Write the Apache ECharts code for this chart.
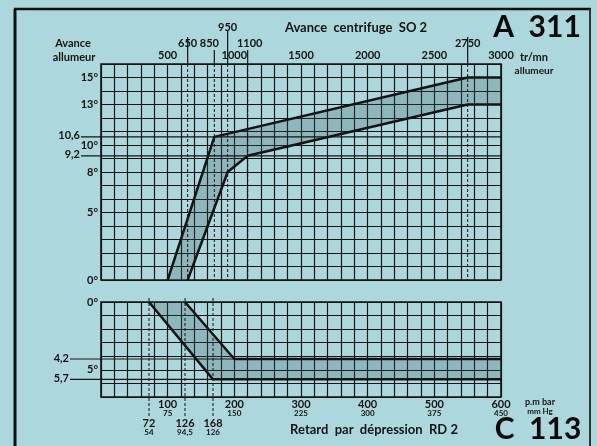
<!DOCTYPE html>
<html><head><meta charset="utf-8">
<script src="https://cdn.jsdelivr.net/npm/echarts@6/dist/echarts.min.js"></script>
<style>html,body{margin:0;padding:0;background:#abd7dd;} #c{width:597px;height:446px;}</style>
</head><body><div id="c"></div>
<script>
// ---- data: centrifugal advance (top chart) ----
const rpmTicks = [500, 1000, 1500, 2000, 2500, 3000];
const advanceTicks = [0, 5, 8, 10, 13, 15];
const upperRpm = [500, 850, 2750, 3000];
const upperDeg = [0, 10.6, 15, 15];
const lowerRpm = [650, 950, 1100, 2750, 3000];
const lowerDeg = [0, 8, 9.2, 13, 13];
const specialRpm = [650, 850, 950, 1100, 2750];
const advanceRefs = [10.6, 9.2];
const advanceRefLabels = ['10,6', '9,2'];
// ---- data: vacuum retard (bottom chart) ----
const mbarTicks = [100, 200, 300, 400, 500, 600];
const mmHgTicks = ['75', '150', '225', '300', '375', '450'];
const retardTicks = [0, 5];
const vacLeftMbar = [72, 168, 600];
const vacLeftDeg = [0, 5.7, 5.7];
const vacRightMbar = [126, 200, 600];
const vacRightDeg = [0, 4.2, 4.2];
const specialMbar = [72, 126, 168];
const specialMmHg = ['54', '94,5', '126'];
const retardRefs = [4.2, 5.7];
const retardRefLabels = ['4,2', '5,7'];

// ---- style ----
const INK = '#141414';
const FONT = 'Lato, "DejaVu Sans", sans-serif';
const specialRow = [1, 1, 2, 1, 1];
const specialTickTop = [-27, -14, -33, -14, -27];
const specialLabelDx = [0, -5, 0, 2, 0];

const zip = (a, b) => a.map((v, i) => [v, b[i]]);

const chart = echarts.init(document.getElementById('c'), null, {renderer: 'canvas'});

function bandRender(xs1, ys1, xs2, ys2) {
  return function (params, api) {
    const pts = [];
    xs1.forEach((x, i) => pts.push(api.coord([x, ys1[i]])));
    for (let i = xs2.length - 1; i >= 0; i--) pts.push(api.coord([xs2[i], ys2[i]]));
    return {type: 'polygon', shape: {points: pts},
      style: {fill: 'rgba(60,90,95,0.26)', stroke: 'none'}};
  };
}

function refRender(values, labels, xMax, lead) {
  return function (params, api) {
    const i = params.dataIndex;
    const a = api.coord([0, values[i]]);
    const b = api.coord([xMax, values[i]]);
    return {type: 'group', children: [
      {type: 'line', shape: {x1: a[0] - lead, y1: a[1], x2: b[0], y2: b[1]},
        style: {stroke: INK, lineWidth: 1.2}},
      {type: 'text', style: {text: labels[i], x: a[0] - lead - 1, y: a[1] - 1,
        align: 'right', verticalAlign: 'middle', fill: INK,
        font: 'bold 11px ' + FONT}}
    ]};
  };
}

const GRID_LINE = {show: true, lineStyle: {color: INK, width: 1.2}};

const option = {
  backgroundColor: '#abd7dd',
  animation: false,
  grid: [
    {left: 101, top: 64, width: 400, height: 216, show: true, borderColor: INK, borderWidth: 1.6, outerBoundsMode: 'none', containLabel: false},
    {left: 101, top: 302, width: 400, height: 95, show: true, borderColor: INK, borderWidth: 1.6, outerBoundsMode: 'none', containLabel: false}
  ],
  xAxis: [
    {gridIndex: 0, type: 'value', position: 'top', min: 0, max: 3000, interval: 100,
      axisLine: {show: false}, axisTick: {show: false}, splitLine: GRID_LINE,
      axisLabel: {interval: 0, margin: 3, color: INK, fontFamily: FONT, fontWeight: 'bold', fontSize: 11,
        showMinLabel: true, showMaxLabel: true,
        formatter: v => rpmTicks.includes(v) ? String(v) : ''}},
    {gridIndex: 1, type: 'value', position: 'bottom', min: 0, max: 600, interval: 20,
      axisLine: {show: false}, axisTick: {show: false}, splitLine: GRID_LINE,
      axisLabel: {interval: 0, margin: 2, color: INK, showMinLabel: true, showMaxLabel: true,
        formatter: v => { const k = mbarTicks.indexOf(v); return k >= 0 ? '{a|' + v + '}\n{b|' + mmHgTicks[k] + '}' : ''; },
        rich: {a: {fontFamily: FONT, fontWeight: 'bold', fontSize: 11, lineHeight: 10, color: INK},
               b: {fontFamily: FONT, fontWeight: 'bold', fontSize: 8, lineHeight: 8, color: INK}}}}
  ],
  yAxis: [
    {gridIndex: 0, type: 'value', min: 0, max: 16, interval: 1,
      axisLine: {show: false}, axisTick: {show: false}, splitLine: GRID_LINE,
      axisLabel: {interval: 0, margin: 3, color: INK, fontFamily: FONT, fontWeight: 'bold', fontSize: 11,
        showMinLabel: true, showMaxLabel: true,
        formatter: v => advanceTicks.includes(v) ? v + '°' : ''}},
    {gridIndex: 1, type: 'value', min: 0, max: 7, interval: 1, inverse: true,
      axisLine: {show: false}, axisTick: {show: false}, splitLine: GRID_LINE,
      axisLabel: {interval: 0, margin: 3, color: INK, fontFamily: FONT, fontWeight: 'bold', fontSize: 11,
        showMinLabel: true, showMaxLabel: true,
        formatter: v => retardTicks.includes(v) ? v + '°' : ''}}
  ],
  series: [
    {type: 'custom', xAxisIndex: 0, yAxisIndex: 0, data: [0], silent: true, z: 1,
      renderItem: bandRender(upperRpm, upperDeg, lowerRpm, lowerDeg)},
    {type: 'custom', xAxisIndex: 0, yAxisIndex: 0, data: specialRpm, silent: true, clip: false, z: 2,
      renderItem: function (params, api) {
        const i = params.dataIndex;
        const t = api.coord([specialRpm[i], 16]);
        const b = api.coord([specialRpm[i], 0]);
        const ly = specialRow[i] === 2 ? t[1] - 37 : t[1] - 21;
        return {type: 'group', children: [
          {type: 'line', shape: {x1: t[0], y1: t[1], x2: b[0], y2: b[1]},
            style: {stroke: INK, lineWidth: 1, lineDash: [3, 2]}},
          {type: 'line', shape: {x1: t[0], y1: t[1] + specialTickTop[i], x2: t[0], y2: t[1]},
            style: {stroke: INK, lineWidth: 1.2}},
          {type: 'text', style: {text: String(specialRpm[i]), x: t[0] + specialLabelDx[i], y: ly,
            align: 'center', verticalAlign: 'middle', fill: INK, font: 'bold 11px ' + FONT}}
        ]};
      }},
    {type: 'custom', xAxisIndex: 0, yAxisIndex: 0, data: advanceRefs, silent: true, clip: false, z: 2,
      renderItem: refRender(advanceRefs, advanceRefLabels, 3000, 20)},
    {type: 'line', xAxisIndex: 0, yAxisIndex: 0, data: zip(upperRpm, upperDeg), symbol: 'none',
      lineStyle: {color: INK, width: 2.5}, z: 3},
    {type: 'line', xAxisIndex: 0, yAxisIndex: 0, data: zip(lowerRpm, lowerDeg), symbol: 'none',
      lineStyle: {color: INK, width: 2.5}, z: 3},
    {type: 'custom', xAxisIndex: 1, yAxisIndex: 1, data: [0], silent: true, z: 1,
      renderItem: bandRender(vacLeftMbar, vacLeftDeg, vacRightMbar, vacRightDeg)},
    {type: 'custom', xAxisIndex: 1, yAxisIndex: 1, data: retardRefs, silent: true, clip: false, z: 2,
      renderItem: refRender(retardRefs, retardRefLabels, 600, 31)},
    {type: 'custom', xAxisIndex: 1, yAxisIndex: 1, data: specialMbar, silent: true, clip: false, z: 2,
      renderItem: function (params, api) {
        const i = params.dataIndex;
        const t = api.coord([specialMbar[i], 0]);
        const b = api.coord([specialMbar[i], 7]);
        return {type: 'group', children: [
          {type: 'line', shape: {x1: t[0], y1: t[1] - 4, x2: b[0], y2: b[1] + 19},
            style: {stroke: INK, lineWidth: 1, lineDash: [3, 2]}},
          {type: 'text', style: {text: String(specialMbar[i]), x: b[0], y: b[1] + 26,
            align: 'center', verticalAlign: 'middle', fill: INK, font: 'bold 11px ' + FONT}},
          {type: 'text', style: {text: specialMmHg[i], x: b[0], y: b[1] + 35,
            align: 'center', verticalAlign: 'middle', fill: INK, font: 'bold 8px ' + FONT}}
        ]};
      }},
    {type: 'line', xAxisIndex: 1, yAxisIndex: 1, data: zip(vacLeftMbar, vacLeftDeg), symbol: 'none',
      lineStyle: {color: INK, width: 2.5}, z: 3},
    {type: 'line', xAxisIndex: 1, yAxisIndex: 1, data: zip(vacRightMbar, vacRightDeg), symbol: 'none',
      lineStyle: {color: INK, width: 2.5}, z: 3}
  ],
  graphic: [
    {type: 'line', shape: {x1: 15, y1: 9, x2: 15, y2: 446}, style: {stroke: '#111', lineWidth: 3}},
    {type: 'line', shape: {x1: 14, y1: 9, x2: 591, y2: 9}, style: {stroke: '#111', lineWidth: 2.5}},
    {type: 'line', shape: {x1: 590, y1: 9, x2: 590, y2: 446}, style: {stroke: '#333', lineWidth: 2}},
    {type: 'text', x: 73, y: 43, style: {text: 'Avance', align: 'center', verticalAlign: 'middle', fill: INK, font: 'bold 11px ' + FONT}},
    {type: 'text', x: 74, y: 57, style: {text: 'allumeur', align: 'center', verticalAlign: 'middle', fill: INK, font: 'bold 11px ' + FONT}},
    {type: 'text', x: 356, y: 28, style: {text: 'Avance  centrifuge  SO 2', align: 'center', verticalAlign: 'middle', fill: INK, font: 'bold 13px ' + FONT}},
    {type: 'text', x: 537, y: 27, style: {text: 'A  311', align: 'center', verticalAlign: 'middle', fill: '#0a0a0a', font: 'bold 30px ' + FONT}},
    {type: 'text', x: 520, y: 57, style: {text: 'tr/mn', align: 'left', verticalAlign: 'middle', fill: INK, font: 'bold 11px ' + FONT}},
    {type: 'text', x: 534, y: 71, style: {text: 'allumeur', align: 'center', verticalAlign: 'middle', fill: INK, font: 'bold 10px ' + FONT}},
    {type: 'text', x: 374, y: 430, style: {text: 'Retard  par  dépression  RD 2', align: 'center', verticalAlign: 'middle', fill: INK, font: 'bold 13px ' + FONT}},
    {type: 'text', x: 538, y: 429, style: {text: 'C  113', align: 'center', verticalAlign: 'middle', fill: '#0a0a0a', font: 'bold 30px ' + FONT}},
    {type: 'text', x: 540, y: 402, style: {text: 'p.m bar', align: 'center', verticalAlign: 'middle', fill: INK, font: 'bold 9px ' + FONT}},
    {type: 'text', x: 540, y: 411, style: {text: 'mm Hg', align: 'center', verticalAlign: 'middle', fill: INK, font: 'bold 8px ' + FONT}}
  ]
};
chart.setOption(option);
</script>
</body></html>
